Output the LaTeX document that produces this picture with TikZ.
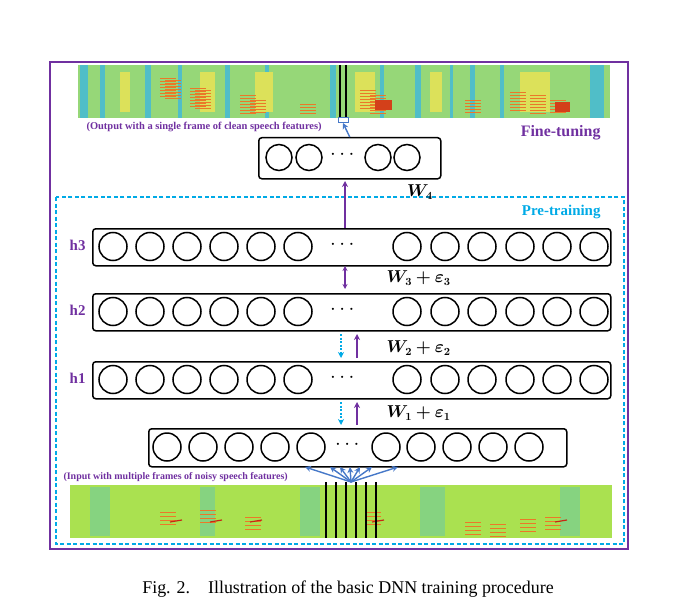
\documentclass[tikz,border=0pt]{standalone}
\usepackage{amsmath,bm}
\usepackage{fontspec}
\setmainfont{Liberation Serif}
\usetikzlibrary{arrows.meta}
\definecolor{pur}{RGB}{112,48,160}
\definecolor{cyn}{RGB}{0,170,230}
\definecolor{fan}{RGB}{70,120,200}
\definecolor{spg}{RGB}{150,215,120}
\definecolor{spb}{RGB}{170,225,80}
\definecolor{spc}{RGB}{80,190,200}
\definecolor{spy}{RGB}{220,225,90}
\definecolor{spo}{RGB}{235,120,40}
\definecolor{spr}{RGB}{200,40,20}
\begin{document}
\begin{tikzpicture}[x=1bp,y=-1bp,
  bar/.style={draw,rounded corners=3bp,line width=1.5bp,anchor=north west,inner sep=0},
  neu/.style={line width=1.5bp},
  dots/.style={font=\fontsize{20}{20}\selectfont\bfseries},
  lab/.style={text=pur,font=\fontsize{15}{15}\selectfont\bfseries},
  wl/.style={font=\fontsize{16}{16}\selectfont\bfseries},
  up/.style={pur,line width=1.4bp,-{Stealth[length=6bp,width=6bp]}},
  dn/.style={cyn,line width=1.4bp,dash pattern=on 2bp off 1.5bp,-{Stealth[length=6bp,width=6bp]}}]
\useasboundingbox (0,0) rectangle (691,606);
% frames
\draw[pur,line width=1.4bp] (50,62) rectangle (628,549);
\draw[cyn,line width=1.4bp,dash pattern=on 4bp off 2.5bp] (56,197) rectangle (624,544);
% top spectrogram
\fill[spg] (78,65) rectangle (610,118);
\foreach \x/\w in {80/8,100/5,145/6,178/4,225/5,265/4,330/6,380/4,415/6,450/3,470/5,500/4,590/14} \fill[spc] (\x,65) rectangle (\x+\w,118);
\foreach \x/\w in {120/10,200/15,255/18,355/20,430/12,520/30} \fill[spy] (\x,72) rectangle (\x+\w,112);
\foreach \x/\a in {160/78,165/80,190/88,195/90,240/95,250/100,300/104,360/90,370/95,465/100,510/92,530/95,550/100}
  \foreach \k in {0,3,...,18} {\pgfmathsetmacro\yy{\a+\k}\ifdim\yy pt<115pt \draw[spo,line width=0.9bp] (\x,\yy) -- (\x+16,\yy);\fi}
\fill[spr!70!spo] (375,100) rectangle (392,110);
\fill[spr!70!spo] (555,102) rectangle (570,112);
\draw[line width=1.4bp] (340,65) -- (340,118) (346,65) -- (346,118);
\draw[fan,line width=1bp] (338,118) rectangle (348,123);
\node[anchor=west,text=pur,font=\fontsize{10.5}{11}\selectfont\bfseries] (otxt) at (83,127) {(Output with a single frame of clean speech features)};
\node[anchor=east,text=pur,font=\fontsize{16}{16}\selectfont\bfseries] (ft) at (604,133) {Fine-tuning};
\node[anchor=east,text=cyn,font=\fontsize{15}{15}\selectfont\bfseries] (pt) at (604,212) {Pre-training};
% output layer
\node[bar,minimum width=182bp,minimum height=41bp] (out) at (258,137) {};
\foreach \x in {279,309,378,407} \draw[neu] (\x,157.5) circle (13);
\node[dots] (od) at (344,155) {$\cdots$};
\coordinate (otop) at (343,123);
\draw[fan,line width=1.4bp,-{Stealth[length=6bp,width=6bp]}] (out.north) -- (otop);
% hidden layers
\foreach \n/\y in {h3/228,h2/293,h1/361} {
  \node[bar,minimum width=518bp,minimum height=37bp] (\n) at (92,\y) {};
  \foreach \x in {113,150,187,224,261,298,407,445,482,520,557,594} \draw[neu] (\x,\y+18.5) circle (14);
  \node[dots] at (344,\y+17) {$\cdots$};
  \node[lab,anchor=east] at (89,\y+17) {\n};
}
% input layer
\node[bar,minimum width=418bp,minimum height=38bp] (in) at (148,428) {};
\foreach \x in {167,203,239,275,311,386,421,457,493,529} \draw[neu] (\x,447) circle (14);
\node[dots] (idt) at (349,445) {$\cdots$};
% arrows
\coordinate (a4) at (345,181);
\draw[up] (h3.north -| a4) -- (a4);
\node[wl] at (420,192) {$\bm{W_4}$};
\draw[pur,line width=1.4bp,{Stealth[length=5bp,width=5bp]}-{Stealth[length=5bp,width=5bp]}] (345,266) -- (345,289);
\node[wl,anchor=west] at (383,278) {$\bm{W_3+\varepsilon_3}$};
\draw[dn] (341,334) -- (341,358);
\draw[up] (357,358) -- (357,334);
\node[wl,anchor=west] at (383,348) {$\bm{W_2+\varepsilon_2}$};
\draw[dn] (341,402) -- (341,425);
\draw[up] (357,425) -- (357,402);
\node[wl,anchor=west] at (383,413) {$\bm{W_1+\varepsilon_1}$};
% bottom spectrogram
\fill[spb] (70,485) rectangle (612,538);
\foreach \x/\w in {90/20,200/15,300/20,420/25,560/20} \fill[spc!40!spb] (\x,487) rectangle (\x+\w,536);
\foreach \x/\a in {160/512,200/510,245/517,365/512,465/522,490/524,520/519,545/517}
  \foreach \k in {0,4,...,12} \draw[spo,line width=1bp] (\x,\a+\k) -- (\x+16,\a+\k);
\foreach \x in {170,210,250,372,555} \draw[spr,line width=1.2bp] (\x,522) -- (\x+12,520);
\node[anchor=west,text=pur,font=\fontsize{10}{10}\selectfont\bfseries] (itxt) at (60,477) {(Input with multiple frames of noisy speech features)};
\foreach \x in {326,336,346,356,366,376} \draw[line width=1.4bp] (\x,482) -- (\x,538);
\coordinate (src) at (351,482);
\foreach \x in {305,330,340,350,360,372,398}
  \draw[fan,line width=1.4bp,-{Stealth[length=6bp,width=6bp]}] (src) -- (\x,467);
% caption
\node[font=\fontsize{18}{18}\selectfont] (cap) at (348,589) {Fig. 2.\quad Illustration of the basic DNN training procedure};
\end{tikzpicture}
\end{document}
